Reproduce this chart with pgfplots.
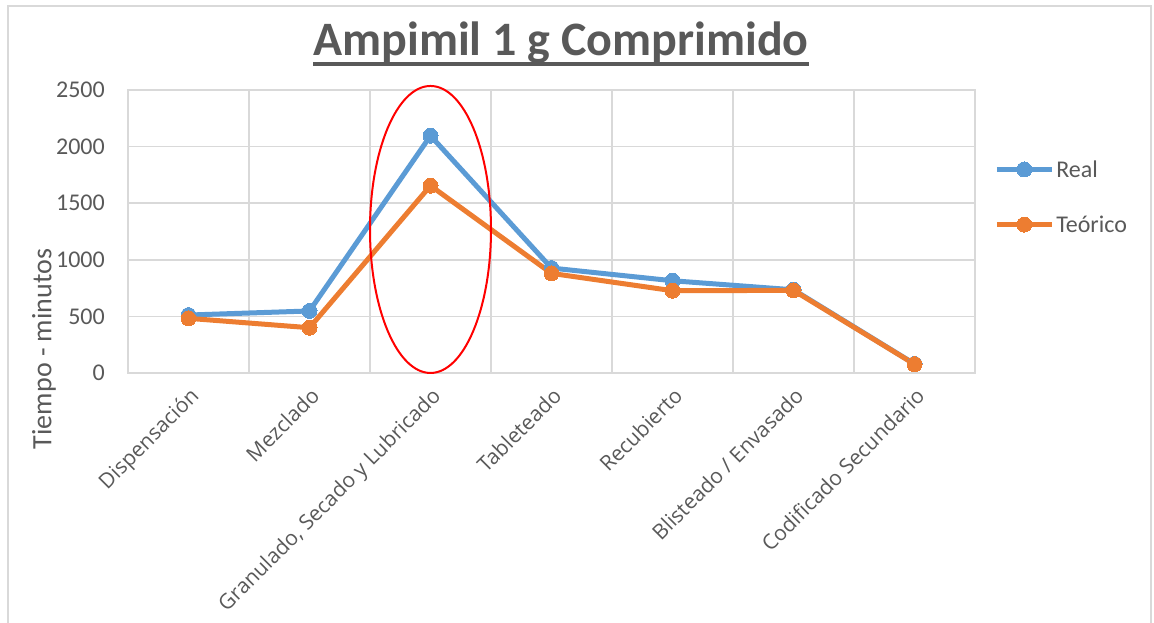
\documentclass[border=0pt]{standalone}
\usepackage{pgfplots}
\pgfplotsset{compat=1.18}
\usepackage{fontspec}
\setmainfont{Carlito}
\newfontfamily\catfont{Open Sans}
\definecolor{txt}{HTML}{595959}
\definecolor{gridc}{HTML}{D9D9D9}
\definecolor{cblue}{HTML}{5B9BD5}
\definecolor{corange}{HTML}{ED7D31}
\begin{document}
\begin{tikzpicture}
\useasboundingbox (0pt,0pt) rectangle (1154pt,-623pt);
\draw[gridc, line width=2pt] (8pt,-623pt) -- (8pt,-6pt) -- (1151pt,-6pt) -- (1151pt,-623pt);
\node[inner sep=0pt, anchor=base, font=\fontsize{48}{52}\selectfont\bfseries, text=txt] (title) at (561pt,-56pt) {Ampimil 1 g Comprimido};
\draw[txt, line width=4pt] ([yshift=-8.5pt]title.base west) -- ([yshift=-8.5pt]title.base east);
\node[rotate=90, inner sep=0pt, font=\fontsize{28}{32}\selectfont, text=txt] at (44pt,-349pt) {Tiempo - minutos};
\begin{axis}[
  at={(128pt,-373pt)}, anchor=south west, scale only axis,
  width=847pt, height=283pt,
  xmin=-0.5, xmax=6.5, ymin=0, ymax=2500,
  ytick={0,500,...,2500},
  xtick={0,1,2,3,4,5,6},
  xticklabels={Dispensación, Mezclado, {Granulado, Secado y Lubricado}, Tableteado, Recubierto, {Blisteado / Envasado}, Codificado Secundario},
  minor xtick={-0.5,0.5,...,6.5},
  xminorgrids, ymajorgrids,
  grid style={gridc, line width=1.5pt},
  minor grid style={gridc, line width=1.5pt},
  axis line style={gridc, line width=1.5pt},
  major tick length=0pt, minor tick length=0pt,
  /pgf/number format/assume math mode=true,
  /pgf/number format/1000 sep={},
  yticklabel style={anchor=east, inner sep=0pt, xshift=-23pt, font=\fontsize{24}{27}\selectfont, text=txt},
  xticklabel style={rotate=45, anchor=north east, inner sep=0pt, font=\catfont\fontsize{21}{25}\selectfont, text=txt},
  xticklabel shift=13pt,
  clip=false,
  legend style={at={(1.0225,0.622)}, anchor=west, draw=none, fill=none, inner sep=0pt,
    font=\fontsize{24}{27}\selectfont, text=txt, row sep=33pt,
    nodes={inner sep=2pt}},
  legend cell align=left,
  legend image code/.code={\draw[mark repeat=2,mark phase=2,#1] plot coordinates {(0pt,0pt) (27.5pt,0pt) (55pt,0pt)};},
]
\addplot[cblue, line width=5pt, line join=round, mark=*, mark size=7.5pt, mark options={solid, fill=cblue, draw=cblue, line width=0pt}] coordinates {
 (0,512) (1,548) (2,2096) (3,927) (4,815) (5,735) (6,80)};
\addlegendentry{Real}
\addplot[corange, line width=5pt, line join=round, mark=*, mark size=7.5pt, mark options={solid, fill=corange, draw=corange, line width=0pt}] coordinates {
 (0,483) (1,400) (2,1655) (3,880) (4,727) (5,730) (6,78)};
\addlegendentry{Teórico}
\draw[red, line width=2pt] (axis cs:2,1268) ellipse [x radius=60.5pt, y radius=143.5pt];
\end{axis}
\end{tikzpicture}
\end{document}
